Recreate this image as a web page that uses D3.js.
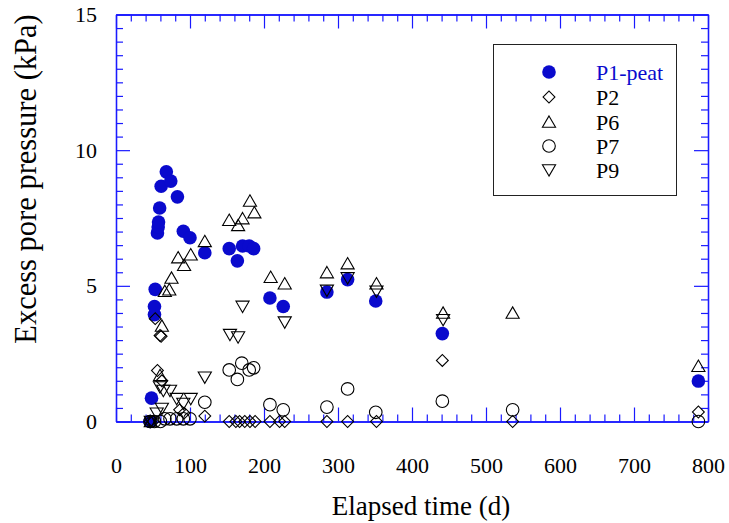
<!DOCTYPE html>
<html>
<head>
<meta charset="utf-8">
<script src="https://cdn.jsdelivr.net/npm/d3@7"></script>
<style>
  body { margin: 0; background: #fff; }
  svg text { font-family: "Liberation Serif", "Times New Roman", Times, "DejaVu Serif", serif !important; }
</style>
</head>
<body>
<script>
// Data: elapsed time (d) and excess pore pressure (kPa)

const p1T = [46, 48, 52, 52, 53, 56, 57, 57.5, 59, 61, 68, 74, 83, 91, 100, 120, 153, 164, 171, 180, 186, 208, 226, 285, 313, 351, 441, 787];
const p1V = [0, 0.86, 3.94, 4.24, 4.87, 6.95, 7.17, 7.35, 7.87, 8.67, 9.2, 8.86, 8.28, 7.01, 6.77, 6.22, 6.37, 5.92, 6.47, 6.47, 6.37, 4.55, 4.24, 4.77, 5.23, 4.44, 3.24, 1.49];

const p2T = [46, 50, 53, 56, 59.5, 61, 62, 86, 92, 120, 153, 162, 167, 174, 181, 188, 208, 221, 228, 285, 313, 352, 441, 536, 787];
const p2V = [0, 0, 3.79, 1.88, 3.17, 3.14, 1.5, 0.43, 0.31, 0.2, 0, 0, 0, 0, 0, 0, 0, 0, 0, 0, 0, 0, 2.25, 0, 0.35];

const p6T = [47, 59.5, 62, 66, 72, 75, 84, 92, 101, 120, 153, 165, 171, 181, 187, 209, 228, 285, 313, 352, 442, 536, 787];
const p6V = [0, 1.7, 3.52, 4.8, 4.86, 5.29, 6.04, 5.76, 6.15, 6.64, 7.42, 7.23, 7.48, 8.13, 7.7, 5.32, 5.08, 5.49, 5.82, 5.08, 4.0, 4.0, 2.04];

const p7T = [46, 52, 60, 66, 73, 82, 91, 100, 120, 153, 164, 170, 180, 186, 208, 226, 285, 313, 351, 441, 536, 787];
const p7V = [0, 0, 0, 0.1, 0.1, 0.1, 0.1, 0.1, 0.71, 1.9, 1.55, 2.15, 1.9, 1.98, 0.62, 0.43, 0.53, 1.2, 0.34, 0.75, 0.43, 0];

const p9T = [47, 55, 59.5, 62, 64, 73, 82, 91, 101, 120, 154, 165, 171, 228, 285, 313, 352, 442];
const p9V = [0, 0.3, 1.27, 0.48, 1.14, 1.14, 0.84, 0.66, 0.84, 1.63, 3.2, 3.11, 4.24, 3.66, 4.83, 5.29, 4.8, 3.75];

const seriesNames = ["P1-peat", "P2", "P6", "P7", "P9"];
const xTickLabels = [0, 100, 200, 300, 400, 500, 600, 700, 800];
const yTickLabels = [0, 5, 10, 15];

// Layout
const width = 729, height = 523;
const plotLeft = 116, plotRight = 708, plotTop = 14.5, plotBottom = 421.5;
const axisColor = "#1a1aff";
const blue = "#0a0acd";
const serif = "'Liberation Serif', 'Times New Roman', Times, 'DejaVu Serif', serif";

const x = d3.scaleLinear().domain([0, 800]).range([plotLeft, plotRight]);
const y = d3.scaleLinear().domain([0, 15]).range([plotBottom, plotTop]);

const svg = d3.select("body").append("svg")
    .attr("width", width)
    .attr("height", height)
    .attr("font-family", serif);

// minor / major tick values
const xMinor = d3.range(0, 801, 20).filter(d => d % 100 !== 0);
const yMinor = d3.range(0, 15.01, 0.5).filter(d => d % 5 !== 0);

function styleAxis(g) {
    g.attr("font-family", serif);
    g.selectAll("path").attr("stroke", axisColor).attr("stroke-width", 1.3);
    g.selectAll("line").attr("stroke", axisColor).attr("stroke-width", 1.2);
    g.selectAll("text").attr("fill", "#000").attr("font-size", 22).attr("font-family", serif);
}

// bottom
svg.append("g").attr("transform", `translate(0,${plotBottom})`)
    .call(d3.axisBottom(x).tickValues(xMinor).tickSize(-7).tickSizeOuter(0).tickFormat(""))
    .call(styleAxis);
svg.append("g").attr("transform", `translate(0,${plotBottom})`)
    .call(d3.axisBottom(x).tickValues(xTickLabels).tickSize(-14).tickSizeOuter(0).tickPadding(36))
    .call(styleAxis);

// top
svg.append("g").attr("transform", `translate(0,${plotTop})`)
    .call(d3.axisTop(x).tickValues(xMinor).tickSize(-7).tickSizeOuter(0).tickFormat(""))
    .call(styleAxis);
svg.append("g").attr("transform", `translate(0,${plotTop})`)
    .call(d3.axisTop(x).tickValues(xTickLabels).tickSize(-14).tickSizeOuter(0).tickFormat(""))
    .call(styleAxis);

// left
svg.append("g").attr("transform", `translate(${plotLeft},0)`)
    .call(d3.axisLeft(y).tickValues(yMinor).tickSize(-7).tickSizeOuter(0).tickFormat(""))
    .call(styleAxis);
svg.append("g").attr("transform", `translate(${plotLeft},0)`)
    .call(d3.axisLeft(y).tickValues(yTickLabels).tickSize(-14).tickSizeOuter(0).tickPadding(19))
    .call(styleAxis);

// right
svg.append("g").attr("transform", `translate(${plotRight},0)`)
    .call(d3.axisRight(y).tickValues(yMinor).tickSize(-7).tickSizeOuter(0).tickFormat(""))
    .call(styleAxis);
svg.append("g").attr("transform", `translate(${plotRight},0)`)
    .call(d3.axisRight(y).tickValues(yTickLabels).tickSize(-14).tickSizeOuter(0).tickFormat(""))
    .call(styleAxis);

// symbols
const circleSym = d3.symbol().type(d3.symbolCircle).size(145);
const openCircleSym = d3.symbol().type(d3.symbolCircle).size(125);
const diamondSym = d3.symbol().type(d3.symbolSquare).size(70);
const triSym = d3.symbol().type(d3.symbolTriangle).size(75);

const series = [
    { name: seriesNames[0], t: p1T, v: p1V, path: circleSym(), tri: false, rot: 0, fill: blue, stroke: "none" },
    { name: seriesNames[1], t: p2T, v: p2V, path: diamondSym(), tri: false, rot: 45, fill: "none", stroke: "#000" },
    { name: seriesNames[2], t: p6T, v: p6V, path: triSym(), tri: true, rot: 0, fill: "none", stroke: "#000" },
    { name: seriesNames[3], t: p7T, v: p7V, path: openCircleSym(), tri: false, rot: 0, fill: "none", stroke: "#000" },
    { name: seriesNames[4], t: p9T, v: p9V, path: triSym(), tri: true, rot: 180, fill: "none", stroke: "#000" }
];

// triangle centroid sits below its bounding-box centre, shift so the shape is centred
function shiftFor(s) {
    return s.tri ? (s.rot === 0 ? 1.5 : -1.5) : 0;
}

series.forEach(s => {
    const pts = s.t.map((t, i) => ({ t: t, v: s.v[i] }));
    svg.append("g").selectAll("path")
        .data(pts)
        .enter()
        .append("path")
        .attr("d", s.path)
        .attr("transform", d => `translate(${x(d.t)},${y(d.v) + shiftFor(s)}) rotate(${s.rot})`)
        .attr("fill", s.fill)
        .attr("stroke", s.stroke)
        .attr("stroke-width", 1.1);
});

// legend
const legend = svg.append("g");
legend.append("rect")
    .attr("x", 493.5).attr("y", 44.5)
    .attr("width", 183).attr("height", 151)
    .attr("fill", "#fff")
    .attr("stroke", "#222")
    .attr("stroke-width", 1);

const legendRows = [72, 97, 122, 146, 170];
series.forEach((s, i) => {
    legend.append("path")
        .attr("d", s.path)
        .attr("transform", `translate(549,${legendRows[i] + shiftFor(s)}) rotate(${s.rot})`)
        .attr("fill", s.fill)
        .attr("stroke", s.stroke)
        .attr("stroke-width", 1.1);
    legend.append("text")
        .attr("x", 596)
        .attr("y", legendRows[i])
        .attr("dy", "0.35em")
        .attr("font-size", 22)
        .attr("fill", i === 0 ? blue : "#000")
        .text(s.name);
});

// axis titles
svg.append("text")
    .attr("x", 421)
    .attr("y", 506)
    .attr("dy", "0.35em")
    .attr("text-anchor", "middle")
    .attr("font-size", 27)
    .text("Elapsed time (d)");

svg.append("text")
    .attr("transform", "translate(25,179) rotate(-90)")
    .attr("dy", "0.35em")
    .attr("text-anchor", "middle")
    .attr("font-size", 30.5)
    .text("Excess pore pressure (kPa)");
</script>
</body>
</html>
